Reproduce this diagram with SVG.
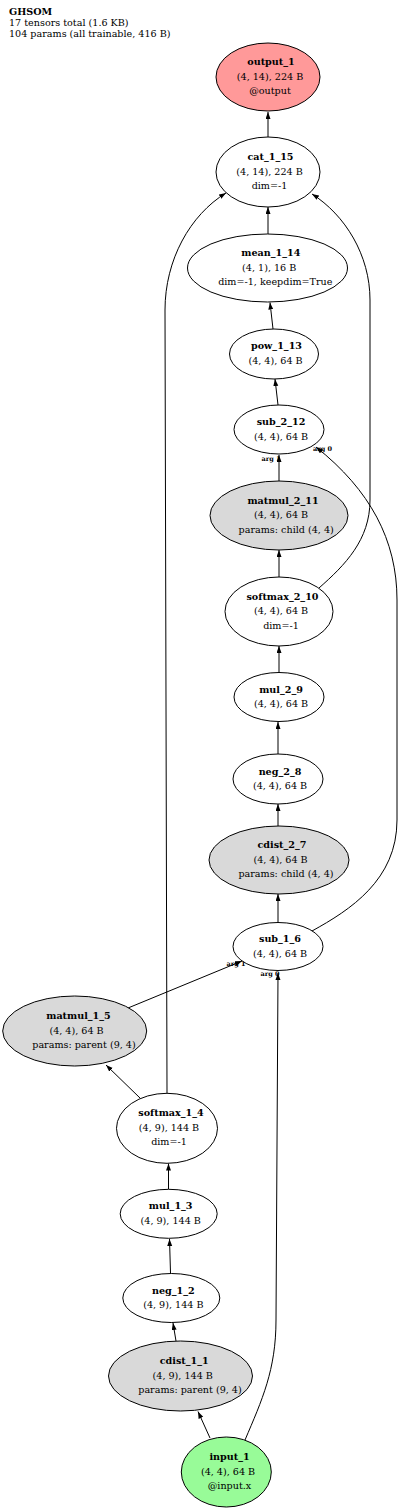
<svg xmlns="http://www.w3.org/2000/svg" width="400" height="1511" viewBox="0 0 400 1511">
<defs>
<style>
text{font-family:"DejaVu Serif","Liberation Serif",serif;font-size:9.6px;fill:#000}
.t{font-weight:bold}
.m{text-anchor:middle}
.lbl{font-size:6.5px;font-weight:bold}
.n{fill:#fff;stroke:#000;stroke-width:1}
.g{fill:#d9d9d9}
.out{fill:#ff9999}
.in{fill:#98fb98}
.e{fill:none;stroke:#000;stroke-width:1;marker-end:url(#ah)}
</style>
<marker id="ah" markerUnits="userSpaceOnUse" markerWidth="8" markerHeight="6" refX="7" refY="2.5" orient="auto">
<path d="M0,0 L7,2.5 L0,5 z" fill="#000"/>
</marker>
</defs>
<rect width="400" height="1511" fill="#fff"/>
<g id="header">
<text x="9" y="14.5" class="t">GHSOM</text>
<text x="9" y="25.5">17 tensors total (1.6 KB)</text>
<text x="9" y="36.5">104 params (all trainable, 416 B)</text>
</g>
<g id="edges">
<path class="e" d="M268,137 L268,112"/>
<path class="e" d="M268,234 L268,207"/>
<path class="e" d="M273,329 L270,302.5"/>
<path class="e" d="M278,405 L275,379"/>
<path class="e" d="M279,481 L279,455"/>
<path class="e" d="M279,577 L279,550"/>
<path class="e" d="M279,672 L279,646"/>
<path class="e" d="M278,754 L278,722"/>
<path class="e" d="M278,826 L278,804"/>
<path class="e" d="M278,922 L278,894"/>
<path class="e" d="M319,588 C345,565 370,540 370,500 L370,300 C370,255 345,215 312,194"/>
<path class="e" d="M312,931 C350,910 397,880 397,820 L397,600 C397,540 370,490 316,447"/>
<path class="e" d="M128,1008 L242,961"/>
<path class="e" d="M140,1098 L106,1065"/>
<path class="e" d="M167,1093 L165,310 C165,260 190,215 226,193"/>
<path class="e" d="M168.5,1189 L168.5,1163.5"/>
<path class="e" d="M170.5,1273 L169.5,1239"/>
<path class="e" d="M176,1341 L173,1323"/>
<path class="e" d="M210,1438 L198,1411.5"/>
<path class="e" d="M245,1440 C262,1400 276,1370 276,1320 L278,973"/>
<text class="lbl" x="261.5" y="460.5">arg 1</text>
<text class="lbl" x="313" y="451">arg 0</text>
<text class="lbl" x="226.5" y="966">arg 1</text>
<text class="lbl" x="260.5" y="976">arg 0</text>
</g>
<g id="nodes">
<g id="output_1">
<ellipse class="n out" cx="268" cy="77" rx="52" ry="34"/>
<text class="m t" x="271" y="65">output_1</text>
<text class="m" x="270" y="79.5">(4, 14), 224 B</text>
<text class="m" x="270" y="94">@output</text>
</g>
<g id="cat_1_15">
<ellipse class="n" cx="268" cy="172" rx="52" ry="35"/>
<text class="m t" x="270.5" y="160">cat_1_15</text>
<text class="m" x="269.5" y="174.5">(4, 14), 224 B</text>
<text class="m" x="269.5" y="189">dim=-1</text>
</g>
<g id="mean_1_14">
<ellipse class="n" cx="267.5" cy="268" rx="80" ry="34"/>
<text class="m t" x="270.8" y="256">mean_1_14</text>
<text class="m" x="269.2" y="270.5">(4, 1), 16 B</text>
<text class="m" x="275.3" y="285">dim=-1, keepdim=True</text>
</g>
<g id="pow_1_13">
<ellipse class="n" cx="274" cy="354" rx="44.5" ry="25"/>
<text class="m t" x="276.5" y="349">pow_1_13</text>
<text class="m" x="275.5" y="363.5">(4, 4), 64 B</text>
</g>
<g id="sub_2_12">
<ellipse class="n" cx="279" cy="429.5" rx="45" ry="24.5"/>
<text class="m t" x="281" y="425">sub_2_12</text>
<text class="m" x="281" y="439.5">(4, 4), 64 B</text>
</g>
<g id="matmul_2_11">
<ellipse class="n g" cx="279" cy="515.5" rx="69" ry="34.5"/>
<text class="m t" x="283" y="503.5">matmul_2_11</text>
<text class="m" x="281" y="518">(4, 4), 64 B</text>
<text class="m" x="286.2" y="532.5">params: child (4, 4)</text>
</g>
<g id="softmax_2_10">
<ellipse class="n" cx="279" cy="611.5" rx="54" ry="34.5"/>
<text class="m t" x="282.5" y="599.5">softmax_2_10</text>
<text class="m" x="281" y="614">(4, 4), 64 B</text>
<text class="m" x="281" y="628.5">dim=-1</text>
</g>
<g id="mul_2_9">
<ellipse class="n" cx="279" cy="697" rx="45" ry="24.5"/>
<text class="m t" x="281" y="692.5">mul_2_9</text>
<text class="m" x="281" y="707">(4, 4), 64 B</text>
</g>
<g id="neg_2_8">
<ellipse class="n" cx="278" cy="779" rx="45" ry="25"/>
<text class="m t" x="280" y="774.5">neg_2_8</text>
<text class="m" x="280" y="789">(4, 4), 64 B</text>
</g>
<g id="cdist_2_7">
<ellipse class="n g" cx="279" cy="860" rx="70" ry="34"/>
<text class="m t" x="282" y="848">cdist_2_7</text>
<text class="m" x="280.5" y="862.5">(4, 4), 64 B</text>
<text class="m" x="286" y="877">params: child (4, 4)</text>
</g>
<g id="sub_1_6">
<ellipse class="n" cx="278" cy="946.5" rx="45" ry="24"/>
<text class="m t" x="280" y="942">sub_1_6</text>
<text class="m" x="280" y="956.5">(4, 4), 64 B</text>
</g>
<g id="matmul_1_5">
<ellipse class="n g" cx="74.7" cy="1031" rx="72" ry="35"/>
<text class="m t" x="78.5" y="1019">matmul_1_5</text>
<text class="m" x="76.5" y="1033.5">(4, 4), 64 B</text>
<text class="m" x="84" y="1048">params: parent (9, 4)</text>
</g>
<g id="softmax_1_4">
<ellipse class="n" cx="167" cy="1128.3" rx="50.5" ry="35"/>
<text class="m t" x="171" y="1116.3">softmax_1_4</text>
<text class="m" x="169" y="1130.8">(4, 9), 144 B</text>
<text class="m" x="169" y="1145.3">dim=-1</text>
</g>
<g id="mul_1_3">
<ellipse class="n" cx="168.7" cy="1213.8" rx="48.5" ry="24.5"/>
<text class="m t" x="170.7" y="1209.3">mul_1_3</text>
<text class="m" x="170.7" y="1223.8">(4, 9), 144 B</text>
</g>
<g id="neg_1_2">
<ellipse class="n" cx="171.3" cy="1298" rx="48.5" ry="24.5"/>
<text class="m t" x="173.3" y="1293.5">neg_1_2</text>
<text class="m" x="173.3" y="1308">(4, 9), 144 B</text>
</g>
<g id="cdist_1_1">
<ellipse class="n g" cx="180.5" cy="1376" rx="72" ry="35"/>
<text class="m t" x="184.2" y="1364">cdist_1_1</text>
<text class="m" x="182.7" y="1378.5">(4, 9), 144 B</text>
<text class="m" x="190" y="1393">params: parent (9, 4)</text>
</g>
<g id="input_1">
<ellipse class="n in" cx="226.3" cy="1472" rx="45" ry="35"/>
<text class="m t" x="229.5" y="1460">input_1</text>
<text class="m" x="228" y="1474.5">(4, 4), 64 B</text>
<text class="m" x="229.5" y="1489">@input.x</text>
</g>
</g>
</svg>
